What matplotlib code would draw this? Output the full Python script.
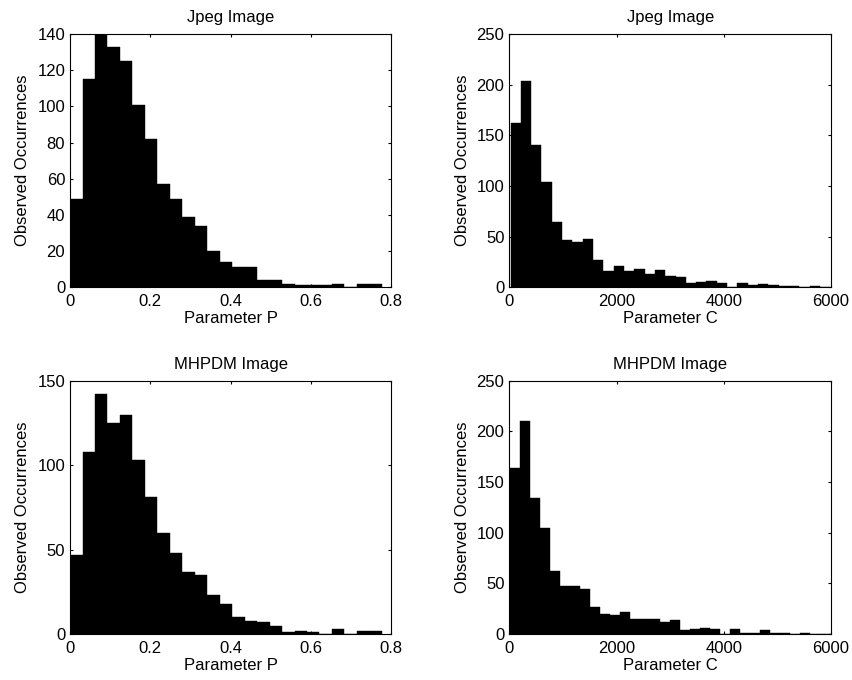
import numpy as np
import matplotlib
matplotlib.use("Agg")
import matplotlib.pyplot as plt
from matplotlib.ticker import FormatStrFormatter

plt.rcParams["font.family"] = ["Liberation Sans", "DejaVu Sans"]
plt.rcParams["font.size"] = 12

# ==========================
# Histogram counts (per bin)
# ==========================
jpeg_p_counts = [49, 115, 140, 133, 125, 101, 82, 57, 49, 39, 34, 20, 14,
                 11, 11, 4, 4, 2, 1, 1, 1, 2, 0, 2, 2]
mhpdm_p_counts = [47, 108, 142, 125, 130, 103, 81, 60, 48, 37, 35, 23, 18,
                  10, 8, 7, 5, 1, 2, 1, 0, 3, 0, 2, 2]

jpeg_c_counts = [162, 204, 140, 104, 64, 47, 45, 48, 27, 16, 21, 16, 18, 13,
                 17, 11, 10, 4, 5, 6, 4, 0, 4, 2, 3, 2, 1, 1, 0, 1, 0]
mhpdm_c_counts = [164, 210, 134, 105, 62, 47, 47, 44, 27, 20, 19, 22, 15, 15,
                  15, 12, 14, 4, 5, 6, 5, 0, 5, 1, 1, 4, 1, 1, 0, 1, 0, 0]

# bin ranges (min / max of each parameter)
p_range = (0.0, 0.777)
jpeg_c_range = (22, 5985)
mhpdm_c_range = (19, 5990)

titles = ["Jpeg Image", "Jpeg Image", "MHPDM Image", "MHPDM Image"]
xlabels = ["Parameter P", "Parameter C", "Parameter P", "Parameter C"]
ylabel = "Observed Occurrences"

panels = [
    (jpeg_p_counts, p_range, (0, 0.8), np.arange(0, 0.81, 0.2), (0, 140), np.arange(0, 141, 20)),
    (jpeg_c_counts, jpeg_c_range, (0, 6000), np.arange(0, 6001, 2000), (0, 250), np.arange(0, 251, 50)),
    (mhpdm_p_counts, p_range, (0, 0.8), np.arange(0, 0.81, 0.2), (0, 150), np.arange(0, 151, 50)),
    (mhpdm_c_counts, mhpdm_c_range, (0, 6000), np.arange(0, 6001, 2000), (0, 250), np.arange(0, 251, 50)),
]

# axes rectangles [left, bottom, width, height]
positions = [
    [0.0822, 0.5775, 0.3768, 0.3725],
    [0.5978, 0.5775, 0.3776, 0.3725],
    [0.0822, 0.0676, 0.3768, 0.3725],
    [0.5978, 0.0676, 0.3776, 0.3725],
]

fig = plt.figure(figsize=(8.52, 6.8), dpi=100)

for i, (counts, rng, xlim, xticks, ylim, yticks) in enumerate(panels):
    ax = fig.add_axes(positions[i])
    edges = np.linspace(rng[0], rng[1], len(counts) + 1)
    ax.hist(edges[:-1], bins=edges, weights=counts,
            color="black", edgecolor="black", linewidth=0.3)
    ax.set_xlim(*xlim)
    ax.set_ylim(*ylim)
    ax.set_xticks(xticks)
    ax.set_yticks(yticks)
    ax.xaxis.set_major_formatter(FormatStrFormatter("%g"))
    ax.yaxis.set_major_formatter(FormatStrFormatter("%g"))
    ax.tick_params(direction="in", length=2.5, width=0.8, top=True, right=True,
                   labelsize=12)
    ax.tick_params(axis="x", pad=5)
    ax.tick_params(axis="y", pad=3.5)
    for spine in ax.spines.values():
        spine.set_linewidth(0.8)
    ax.set_title(titles[i], fontsize=12, pad=8.5)
    ax.set_xlabel(xlabels[i], fontsize=12, labelpad=1.5)
    ax.set_ylabel(ylabel, fontsize=12, labelpad=5)

plt.savefig("out.png", dpi=100)
